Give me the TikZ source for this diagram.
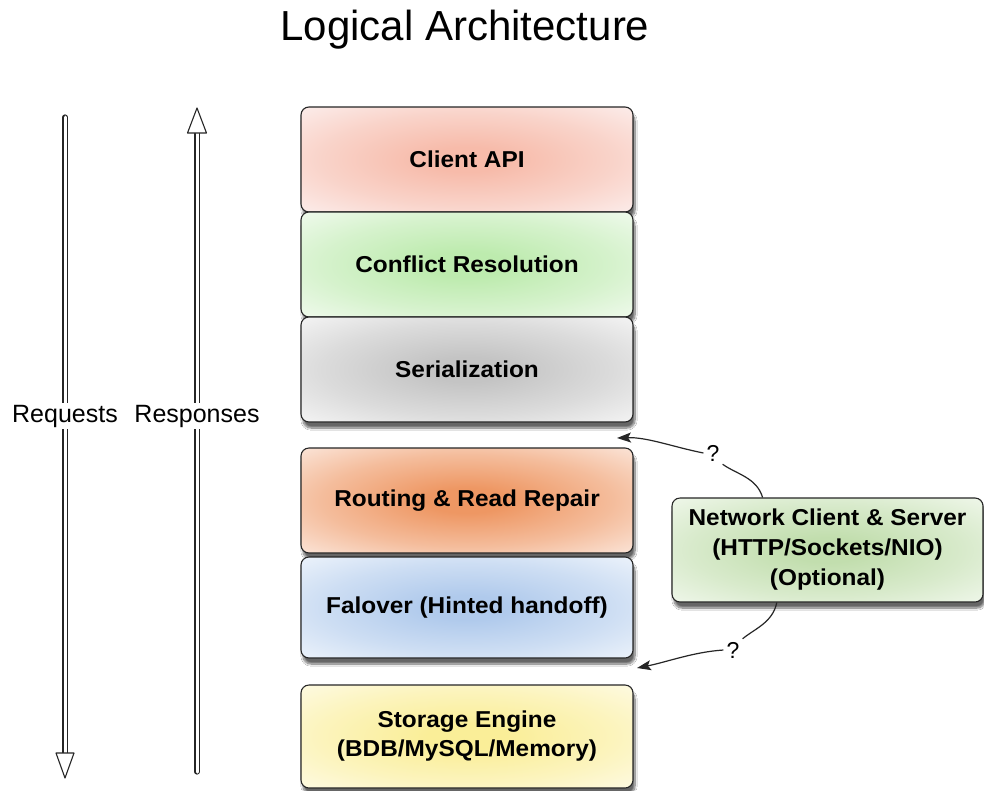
\documentclass[tikz,border=0pt]{standalone}
\usepackage{fontspec}
\setmainfont{Liberation Sans}
\newfontfamily\boxfont{Liberation Sans}[FakeStretch=1.06]
\usetikzlibrary{arrows.meta,shadows.blur}
\definecolor{capiIn}{HTML}{F7BBAA}
\definecolor{capiOut}{HTML}{FCF1F0}
\definecolor{confIn}{HTML}{BDEBAE}
\definecolor{confOut}{HTML}{F4FBF2}
\definecolor{serIn}{HTML}{C4C4C4}
\definecolor{serOut}{HTML}{F8F8F8}
\definecolor{routIn}{HTML}{EE9763}
\definecolor{routOut}{HTML}{FCEBE2}
\definecolor{failIn}{HTML}{B0CAEC}
\definecolor{failOut}{HTML}{F1F6FC}
\definecolor{storIn}{HTML}{FAEE98}
\definecolor{storOut}{HTML}{FEFBE8}
\definecolor{netIn}{HTML}{C2DEAE}
\definecolor{netOut}{HTML}{F3F9EF}
\colorlet{glowin}{white}
\colorlet{glowout}{white}
\pgfdeclareradialshading[glowin,glowout]{glow}{\pgfpoint{0bp}{0bp}}{%
  color(0bp)=(glowin); color(6bp)=(glowin); color(22bp)=(glowin!55!glowout);
  color(38bp)=(glowout); color(50bp)=(glowout)}
\begin{document}
\begin{tikzpicture}[x=1pt,y=-1pt,
  layer/.style={draw=black!85, line width=1.1pt, rounded corners=8pt,
    minimum width=332pt, align=center,
    font=\boxfont\bfseries\fontsize{23}{29}\selectfont,
    blur shadow={shadow xshift=2pt, shadow yshift=-6pt, shadow blur steps=10, shadow opacity=60}},
  glowfill/.style 2 args={/utils/exec={\colorlet{glowin}{#1}\colorlet{glowout}{#2}}, shading=glow},
  shaft/.style={draw=black!85, line width=1.1pt, double=white, double distance=3pt, line cap=round},
  headtri/.style={draw=black!85, fill=white, line width=1.1pt, line join=round},
  lbl/.style={fill=white, inner sep=2pt, font=\fontsize{25}{30}\selectfont},
  qmark/.style={inner sep=3pt, font=\fontsize{23}{28}\selectfont},
  conn/.style={draw=black!85, line width=1.2pt},
  tip/.style={-{Stealth[length=14pt,width=10pt,inset=3pt]}}
]
\useasboundingbox (0,0) rectangle (984,790);
\fill[white] (0,0) rectangle (984,790);

% title
\node[anchor=base, inner sep=0pt, font=\fontsize{42}{50}\selectfont] (title) at (465,40) {Logical Architecture};

% requests / responses arrows
\coordinate (reqtop) at (65,117);
\coordinate (reqbot) at (65,753);
\coordinate (resptop) at (197,133);
\coordinate (respbot) at (197,772);
\draw[shaft] (reqtop) -- (reqbot);
\draw[headtri] (56,753) -- (74,753) -- (65,778) -- cycle;
\draw[shaft] (respbot) -- (resptop);
\draw[headtri] (187.5,133) -- (206.5,133) -- (197,108) -- cycle;
\node[lbl] (reqlbl) at (65,416) {Requests};
\node[lbl] (resplbl) at (197,416) {Responses};

% layers
\node[layer, minimum height=105pt, glowfill={capiIn}{capiOut}] (capi) at (467,159.5) {Client API};
\node[layer, minimum height=105pt, glowfill={confIn}{confOut}] (conf) at (467,264.5) {Conflict Resolution};
\node[layer, minimum height=105pt, glowfill={serIn}{serOut}] (ser) at (467,369.5) {Serialization};
\node[layer, minimum height=105pt, glowfill={routIn}{routOut}] (rout) at (467,500.5) {Routing \& Read Repair};
\node[layer, minimum height=101pt, glowfill={failIn}{failOut}] (fail) at (467,607.5) {Falover (Hinted handoff)};
\node[layer, minimum height=103pt, glowfill={storIn}{storOut}] (stor) at (467,736.5) {Storage Engine\\(BDB/MySQL/Memory)};

% network box
\node[layer, minimum width=311pt, minimum height=104pt, glowfill={netIn}{netOut},
  font=\boxfont\bfseries\fontsize{23}{30}\selectfont] (net) at (827.5,550)
  {Network Client \& Server\\(HTTP/Sockets/NIO)\\(Optional)};

% question-mark connectors
\node[qmark] (q1) at (713,453) {?};
\node[qmark] (q2) at (733,650) {?};
\coordinate (t1) at (617,438);
\coordinate (t2) at (637,668);
\draw[conn] (net.141) .. controls +(-6,-20) and +(14,10) .. (q1.south east);
\draw[conn,tip] (q1.west) .. controls +(-30,-6) and +(30,-1) .. (t1);
\draw[conn] (net.226) .. controls +(-4,20) and +(12,-10) .. (q2.north east);
\draw[conn,tip] (q2.west) .. controls +(-30,2) and +(30,-6) .. (t2);
\end{tikzpicture}
\end{document}
